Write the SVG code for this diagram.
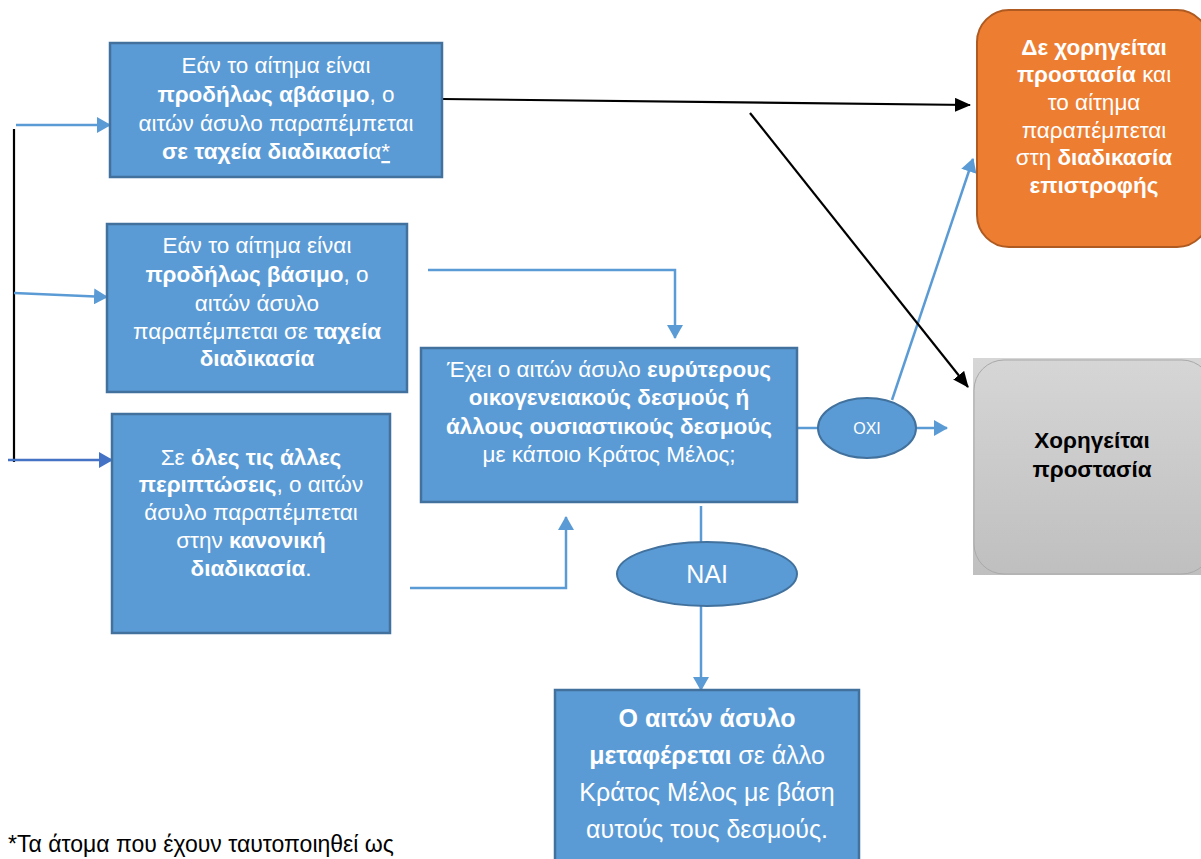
<svg xmlns="http://www.w3.org/2000/svg" width="1201" height="859" viewBox="0 0 1201 859">
<style>
.box{fill:#5b9bd5;stroke:#41719c;stroke-width:2.5}
.t{font-family:"Liberation Sans",Arial,sans-serif;font-size:22.5px;fill:#fff;text-anchor:middle}
.b{font-weight:bold}
.bl{fill:none;stroke:#5b9bd5;stroke-width:2.5}
.bk{fill:none;stroke:#000;stroke-width:2.2}
</style>
<defs>
<marker id="ab" markerUnits="userSpaceOnUse" markerWidth="14" markerHeight="16" refX="13" refY="8" orient="auto"><path d="M0,0 L14,8 L0,16 Z" fill="#5b9bd5"/></marker>
<marker id="ad" markerUnits="userSpaceOnUse" markerWidth="14" markerHeight="16" refX="13" refY="8" orient="auto"><path d="M0,0 L14,8 L0,16 Z" fill="#4472c4"/></marker>
<marker id="ak" markerUnits="userSpaceOnUse" markerWidth="16" markerHeight="14" refX="15" refY="7" orient="auto"><path d="M0,0 L16,7 L0,14 Z" fill="#000"/></marker>
<linearGradient id="gg" x1="0" y1="0" x2="0" y2="1"><stop offset="0" stop-color="#d6d6d6"/><stop offset="1" stop-color="#bfbfbf"/></linearGradient>
</defs>
<g id="connectors">
<line class="bk" x1="14" y1="129" x2="14" y2="462" stroke-width="1.5"/>
<line class="bl" x1="16" y1="125" x2="110" y2="125" marker-end="url(#ab)"/>
<line class="bl" x1="14" y1="293" x2="107" y2="297" marker-end="url(#ab)"/>
<line x1="8" y1="460" x2="112" y2="460" stroke="#4472c4" stroke-width="2.5" marker-end="url(#ad)"/>
<polyline class="bl" points="428,270 675,270 675,338" marker-end="url(#ab)"/>
<polyline class="bl" points="410,588 566,588 566,517" marker-end="url(#ab)"/>
<line class="bl" x1="797" y1="428" x2="818" y2="428"/>
<line class="bl" x1="916" y1="428" x2="947" y2="428" marker-end="url(#ab)"/>
<line class="bl" x1="892" y1="400" x2="973" y2="159" marker-end="url(#ab)"/>
<line class="bl" x1="701" y1="506" x2="701" y2="542"/>
<line class="bl" x1="701" y1="606" x2="701" y2="690" marker-end="url(#ab)"/>
<line class="bk" x1="442" y1="99" x2="970" y2="105" marker-end="url(#ak)"/>
<line class="bk" x1="750" y1="113" x2="968" y2="387" marker-end="url(#ak)"/>
</g>
<g id="box1">
<rect class="box" x="110" y="43" width="332" height="134"/>
<text class="t" x="276" y="73">Εάν το αίτημα είναι</text>
<text class="t" x="276" y="102"><tspan class="b">προδήλως αβάσιμο</tspan>, ο</text>
<text class="t" x="276" y="131">αιτών άσυλο παραπέμπεται</text>
<text class="t" x="276" y="159"><tspan class="b">σε ταχεία διαδικασί</tspan>α<tspan text-decoration="underline">*</tspan></text>
</g>
<g id="box2">
<rect class="box" x="107" y="224" width="300" height="168"/>
<text class="t" x="257" y="253">Εάν το αίτημα είναι</text>
<text class="t" x="257" y="282"><tspan class="b">προδήλως βάσιμο</tspan>, ο</text>
<text class="t" x="257" y="311">αιτών άσυλο</text>
<text class="t" x="257" y="339">παραπέμπεται σε <tspan class="b">ταχεία</tspan></text>
<text class="t" x="257" y="366" font-weight="bold">διαδικασία</text>
</g>
<g id="box3">
<rect class="box" x="112" y="414" width="278" height="219"/>
<text class="t" x="251" y="465">Σε <tspan class="b">όλες τις άλλες</tspan></text>
<text class="t" x="251" y="492"><tspan class="b">περιπτώσεις</tspan>, ο αιτών</text>
<text class="t" x="251" y="520">άσυλο παραπέμπεται</text>
<text class="t" x="251" y="548">στην <tspan class="b">κανονική</tspan></text>
<text class="t" x="251" y="576"><tspan class="b">διαδικασία</tspan>.</text>
</g>
<g id="question">
<rect class="box" x="421" y="348" width="376" height="154"/>
<text class="t" x="609" y="377">Έχει ο αιτών άσυλο <tspan class="b">ευρύτερους</tspan></text>
<text class="t" x="609" y="405" font-weight="bold">οικογενειακούς δεσμούς ή</text>
<text class="t" x="609" y="434" font-weight="bold">άλλους ουσιαστικούς δεσμούς</text>
<text class="t" x="609" y="462">με κάποιο Κράτος Μέλος;</text>
</g>
<g id="oxi">
<ellipse cx="867" cy="428" rx="49" ry="30" fill="#5b9bd5" stroke="#41719c" stroke-width="2"/>
<text class="t" x="867" y="434" style="font-size:16px">OXI</text>
</g>
<g id="nai">
<ellipse cx="707" cy="574" rx="90" ry="32" fill="#5b9bd5" stroke="#41719c" stroke-width="2"/>
<text class="t" x="707" y="583" style="font-size:25px">ΝΑΙ</text>
</g>
<g id="transfer">
<rect class="box" x="555" y="690" width="304" height="180"/>
<text class="t" x="707" y="727" style="font-size:25px" font-weight="bold">Ο αιτών άσυλο</text>
<text class="t" x="707" y="764" style="font-size:25px"><tspan class="b">μεταφέρεται</tspan> σε άλλο</text>
<text class="t" x="707" y="801" style="font-size:25px">Κράτος Μέλος με βάση</text>
<text class="t" x="707" y="838" style="font-size:25px">αυτούς τους δεσμούς.</text>
</g>
<g id="refused">
<rect x="977" y="10" width="232" height="237" rx="32" fill="#ed7d31" stroke="#ae5a21" stroke-width="2"/>
<text class="t" x="1094" y="55" font-weight="bold">Δε χορηγείται</text>
<text class="t" x="1094" y="82"><tspan class="b">προστασία</tspan> και</text>
<text class="t" x="1094" y="110">το αίτημα</text>
<text class="t" x="1094" y="138">παραπέμπεται</text>
<text class="t" x="1094" y="165">στη <tspan class="b">διαδικασία</tspan></text>
<text class="t" x="1094" y="193" font-weight="bold">επιστροφής</text>
</g>
<g id="granted">
<rect x="973" y="358" width="240" height="217" fill="url(#gg)"/>
<rect x="974" y="360" width="238" height="214" rx="30" fill="none" stroke="#a9a9a9" stroke-width="1"/>
<text class="t" x="1092" y="448" font-weight="bold" style="fill:#000">Χορηγείται</text>
<text class="t" x="1092" y="477" font-weight="bold" style="fill:#000">προστασία</text>
</g>
<text x="8" y="852" style="font-family:'Liberation Sans',Arial,sans-serif;font-size:23px;fill:#000">*Τα άτομα που έχουν ταυτοποιηθεί ως</text>
</svg>
